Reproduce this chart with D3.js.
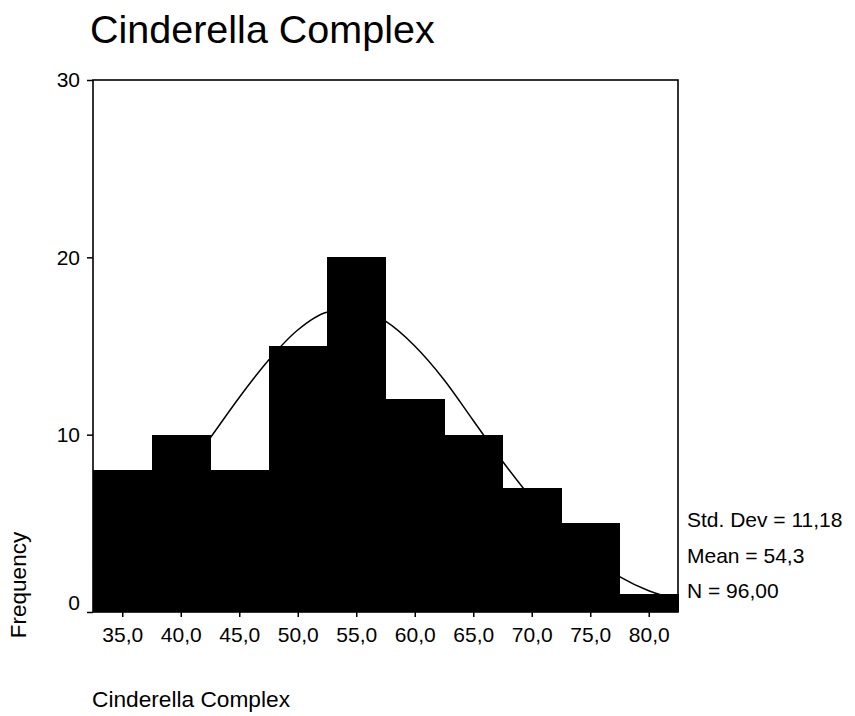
<!DOCTYPE html>
<html>
<head>
<meta charset="utf-8">
<script src="https://cdn.jsdelivr.net/npm/d3@7"></script>
<style>
  body { margin: 0; background: #fff; }
  text { font-family: "Liberation Sans", Arial, sans-serif; fill: #000; }
</style>
</head>
<body>
<div id="wrapper"></div>
<script>
// DATA
const binCenters = [35, 40, 45, 50, 55, 60, 65, 70, 75, 80]
const counts = [8, 10, 8, 15, 20, 12, 10, 7, 5, 1]
const xTickLabels = ["35,0", "40,0", "45,0", "50,0", "55,0", "60,0", "65,0", "70,0", "75,0", "80,0"]
const yTicks = [0, 10, 20, 30]
// normal curve, every 2.5 units
const curveX = [32.5, 35, 37.5, 40, 42.5, 45, 47.5, 50, 52.5, 55, 57.5, 60, 62.5, 65, 67.5, 70, 72.5, 75, 77.5, 80, 82.5]
const curveY = [2.6, 3.9, 5.5, 7.6, 9.8, 12.1, 14.2, 15.9, 16.9, 17.1, 16.4, 15.0, 13.1, 10.8, 8.5, 6.4, 4.6, 3.1, 2.0, 1.2, 0.7]
const statLines = ["Std. Dev = 11,18", "Mean = 54,3", "N = 96,00"]
const binWidth = 5

// DIMENSIONS
const dimensions = {
  width: 855,
  height: 716,
  margin: { top: 80, right: 177, bottom: 104, left: 93 }
}
dimensions.boundedWidth = dimensions.width - dimensions.margin.left - dimensions.margin.right
dimensions.boundedHeight = dimensions.height - dimensions.margin.top - dimensions.margin.bottom

const wrapper = d3.select("#wrapper").append("svg")
  .attr("width", dimensions.width)
  .attr("height", dimensions.height)

const bounds = wrapper.append("g")
  .attr("transform", `translate(${dimensions.margin.left},${dimensions.margin.top})`)

// SCALES
const xScale = d3.scaleLinear()
  .domain([32.5, 82.5])
  .range([0, dimensions.boundedWidth])

const yScale = d3.scaleLinear()
  .domain([0, 30])
  .range([dimensions.boundedHeight, 0])

// BARS
bounds.selectAll("rect.bar")
  .data(binCenters)
  .enter().append("rect")
  .attr("class", "bar")
  .attr("x", d => xScale(d - binWidth / 2))
  .attr("width", d => xScale(d + binWidth / 2) - xScale(d - binWidth / 2) + 0.6)
  .attr("y", (d, i) => yScale(counts[i]))
  .attr("height", (d, i) => yScale(0) - yScale(counts[i]))
  .attr("fill", "#000")
  .attr("shape-rendering", "crispEdges")

// NORMAL CURVE
const line = d3.line()
  .x(d => xScale(d[0]))
  .y(d => yScale(d[1]))
  .curve(d3.curveMonotoneX)

bounds.append("path")
  .datum(d3.zip(curveX, curveY))
  .attr("d", line)
  .attr("fill", "none")
  .attr("stroke", "#000")
  .attr("stroke-width", 1.5)

// FRAME
bounds.append("rect")
  .attr("width", dimensions.boundedWidth)
  .attr("height", dimensions.boundedHeight)
  .attr("fill", "none")
  .attr("stroke", "#000")
  .attr("stroke-width", 1.6)

// AXES
const yAxis = bounds.append("g")
  .call(d3.axisLeft(yScale).tickValues(yTicks).tickSize(6).tickSizeOuter(0).tickPadding(7))
yAxis.select(".domain").remove()
yAxis.selectAll("line").attr("stroke-width", 1.5)
yAxis.selectAll("text")
  .style("font-size", "21px")
  .attr("dy", d => d === 0 ? "-0.1em" : "0.32em")

const xAxis = bounds.append("g")
  .attr("transform", `translate(0,${dimensions.boundedHeight})`)
  .call(d3.axisBottom(xScale).tickValues(binCenters).tickSize(5).tickSizeOuter(0).tickPadding(10)
    .tickFormat((d, i) => xTickLabels[i]))
xAxis.select(".domain").remove()
xAxis.selectAll("line").attr("stroke-width", 1.5)
xAxis.selectAll("text").style("font-size", "21px")

// LABELS
wrapper.append("text")
  .attr("x", 90)
  .attr("y", 43)
  .style("font-size", "39.5px")
  .text("Cinderella Complex")

wrapper.append("text")
  .attr("x", 92)
  .attr("y", 707)
  .style("font-size", "22.7px")
  .text("Cinderella Complex")

wrapper.append("text")
  .attr("transform", "translate(26,585) rotate(-90)")
  .attr("text-anchor", "middle")
  .style("font-size", "22.5px")
  .text("Frequency")

wrapper.selectAll("text.stat")
  .data(statLines)
  .enter().append("text")
  .attr("class", "stat")
  .attr("x", 687)
  .attr("y", (d, i) => 527 + i * 35.5)
  .style("font-size", "21px")
  .text(d => d)
</script>
</body>
</html>
